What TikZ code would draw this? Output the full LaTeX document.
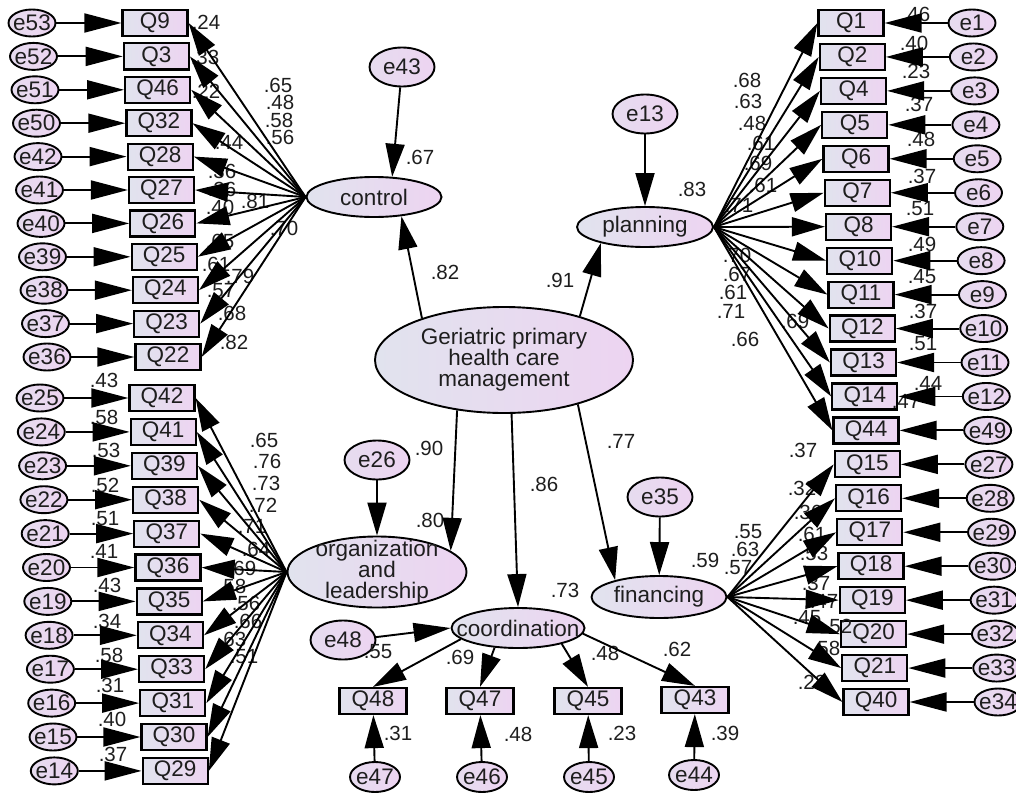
\documentclass[tikz,border=0pt]{standalone}
\usepackage{fontspec}
\setmainfont{Liberation Sans}
\usetikzlibrary{arrows.meta,shapes.geometric}
\definecolor{fillL}{HTML}{E1E3EE}
\definecolor{fillR}{HTML}{EDD4F1}
\definecolor{errL}{HTML}{E6DCEF}
\definecolor{txt}{HTML}{1E1E1E}
\tikzset{
  tfont/.style={font=\fontsize{22.5}{21}\selectfont, text=txt},
  obs/.style={rectangle, draw=black, line width=2.2pt, left color=fillL, right color=fillR,
    minimum width=65pt, minimum height=26pt, inner sep=0pt, tfont},
  err/.style={ellipse, draw=black, line width=1.9pt, left color=errL, right color=fillR,
    minimum width=47pt, minimum height=27pt, inner sep=-3pt, tfont},
  cerr/.style={err, minimum width=65pt, minimum height=39pt},
  berr/.style={err, minimum width=50pt, minimum height=30pt},
  lat/.style={ellipse, draw=black, line width=1.9pt, left color=fillL, right color=fillR, inner sep=0pt},
  lattext/.style={tfont, align=center, inner sep=0pt},
  lbl/.style={font=\fontsize{20.5}{20}\selectfont, text=txt, inner sep=0pt},
  arr/.style={line width=1.9pt, -{Triangle[length=33pt,width=19pt]}},
  harr/.style={line width=1.9pt, -{Triangle[length=37pt,width=19pt]}},
}
\begin{document}
\begin{tikzpicture}[x=1pt,y=-1pt]
\useasboundingbox (0,0) rectangle (1016,792);
% latent variables
\node[lat, minimum width=258pt, minimum height=106pt] (gp) at (504,360) {};
\node[lattext] (gpt) at (gp) {Geriatric primary\\health care\\management};
\node[lat, minimum width=135pt, minimum height=40pt] (ctrl) at (374,197) {};
\node[lattext] (ctrlt) at (ctrl) {control};
\node[lat, minimum width=136pt, minimum height=40pt] (plan) at (645,227) {};
\node[lattext] (plant) at (plan) {planning};
\node[lat, minimum width=179pt, minimum height=71pt] (org) at (377,572) {};
\node[lattext] (orgt) at (org) {organization\\and\\leadership};
\node[lat, minimum width=133pt, minimum height=40pt] (coord) at (518,628) {};
\node[lattext] (coordt) at (coord) {coordination};
\node[lat, minimum width=135pt, minimum height=42pt] (fin) at (659,597) {};
\node[lattext] (fint) at (fin) {financing};
% disturbances
\node[cerr] (e43) at (402,67) {e43};
\node[cerr] (e13) at (645,114) {e13};
\node[cerr] (e26) at (377,460) {e26};
\node[cerr] (e35) at (660,497) {e35};
\node[cerr] (e48) at (343,640) {e48};
% coordination indicators
\node[obs, minimum width=67pt] (Q48) at (373,701) {Q48};
\node[obs, minimum width=67pt] (Q47) at (480,701) {Q47};
\node[obs, minimum width=67pt] (Q45) at (588,701) {Q45};
\node[obs, minimum width=67pt] (Q43) at (695,700) {Q43};
\node[berr] (e47) at (375,777) {e47};
\node[berr] (e46) at (482,777) {e46};
\node[berr] (e45) at (589,777) {e45};
\node[berr] (e44) at (694,775) {e44};
% control indicators
\foreach \n/\e [count=\i from 0] in {Q9/e53,Q3/e52,Q46/e51,Q32/e50,Q28/e42,Q27/e41,Q26/e40,Q25/e39,Q24/e38,Q23/e37,Q22/e36}{
  \node[obs] (\n) at ({155+1.3*\i},{23+33.4*\i}) {\n};
  \node[err] (\e) at ({32+1.5*\i},{23+33.4*\i}) {\e};
}
% organization indicators
\foreach \n/\e [count=\i from 0] in {Q42/e25,Q41/e24,Q39/e23,Q38/e22,Q37/e21,Q36/e20,Q35/e19,Q34/e18,Q33/e17,Q31/e16,Q30/e15,Q29/e14}{
  \node[obs] (\n) at ({162+1.2*\i},{398+33.9*\i}) {\n};
  \node[err] (\e) at ({40+1.3*\i},{398+33.9*\i}) {\e};
}
% right indicators
\foreach \n/\e [count=\i from 0] in {Q1/e1,Q2/e2,Q4/e3,Q5/e4,Q6/e5,Q7/e6,Q8/e7,Q10/e8,Q11/e9,Q12/e10,Q13/e11,Q14/e12,Q44/e49,Q15/e27,Q16/e28,Q17/e29,Q18/e30,Q19/e31,Q20/e32,Q21/e33,Q40/e34}{
  \node[obs] (\n) at ({851+1.25*\i},{23+33.95*\i}) {\n};
  \node[err] (\e) at ({972+1.3*\i},{23+33.95*\i}) {\e};
}
% labels
\foreach \t/\x/\y [count=\k] in {
 .67/420/157, .82/445/272, .91/560/280, .83/692/189, .90/429/448, .80/430/520,
 .86/544/484, .77/621/441, .73/565/590, .59/705/560, .55/378/652, .69/460/657,
 .48/605/653, .62/677/649, .31/398/733, .48/518/734, .23/622/733, .39/725/733,
 .24/206/22, .33/205/57, .22/206/91, .65/278/85, .48/280/102.5, .58/279/120, .56/280/137.5,
 .44/229/142, .36/222/171, .26/222/189, .40/220/207, .81/255/201, .70/284/228,
 .65/220/241, .61/216/264, .79/240/276, .57/221/291, .68/232/313, .82/234/342,
 .43/104/380, .58/104/417, .53/106/450, .52/105/485, .51/105/519, .41/104/551,
 .43/107/585, .34/107/621, .58/109/655, .31/110/685, .40/112/719, .37/113/754,
 .65/264/440, .76/267/461, .73/266/483, .72/263/505, .71/252/526, .64/256/549,
 .69/242/568, .58/232/586, .56/246/603.5, .66/248/621, .63/232/639, .51/244/657,
 .46/916/14, .40/914/43, .23/916/71, .37/919/104, .48/921/139, .37/922/176,
 .51/920/209, .49/922/244, .45/922/277, .37/923/311, .51/923/344, .44/928/383, .47/906/401,
 .68/747/80, .63/748/101, .48/752/123, .61/761/143, .69/758/163, .61/763/185,
 .71/739/205, .70/737/255, .67/737/274, .61/733/292, .71/731/311, .69/795/321, .66/745/339,
 .37/803/450, .32/802/488, .36/808/512, .55/748/531.5, .63/745/549.5, .57/738/567.5,
 .61/812/534, .53/814/553, .37/816/583, .47/824/601, .45/807/618, .52/838/626,
 .58/826/648, .23/812/682}{
  \node[lbl] (l\k) at (\x,\y) {\t};
}
% structural arrows
\draw[arr] (e43) -- (ctrl.48);
\draw[arr] (e13) -- (plan);
\draw[arr] (e26) -- (org);
\draw[arr] (e35) -- (fin);
\draw[arr] (gp.153) -- (ctrl.325);
\draw[arr] (gp.30) -- (plan.200);
\draw[arr] (gp.227) -- (org.16);
\draw[arr] (gp.278) -- (coord.north);
\draw[arr] (gp.329) -- (fin.159);
\draw[harr] (e48.5) -- (coord.west);
\draw[arr] (coord.191) -- (Q48.north);
\draw[arr] (coord.220) -- (Q47.north);
\draw[arr] (coord.340) -- (Q45.north);
\draw[arr] (coord.355) -- (Q43.north);
\draw[arr] (e47) -- (Q48);
\draw[arr] (e46) -- (Q47);
\draw[arr] (e45) -- (Q45);
\draw[arr] (e44) -- (Q43);
% measurement arrows
\foreach \n/\e in {Q9/e53,Q3/e52,Q46/e51,Q32/e50,Q28/e42,Q27/e41,Q26/e40,Q25/e39,Q24/e38,Q23/e37,Q22/e36}{
  \draw[arr] (ctrl.west) -- (\n.east);
  \draw[harr] (\e) -- (\n);
}
\foreach \n/\e in {Q42/e25,Q41/e24,Q39/e23,Q38/e22,Q37/e21,Q36/e20,Q35/e19,Q34/e18,Q33/e17,Q31/e16,Q30/e15,Q29/e14}{
  \draw[arr] (org.west) -- (\n.east);
  \draw[harr] (\e) -- (\n);
}
\foreach \n/\e in {Q1/e1,Q2/e2,Q4/e3,Q5/e4,Q6/e5,Q7/e6,Q8/e7,Q10/e8,Q11/e9,Q12/e10,Q13/e11,Q14/e12,Q44/e49}{
  \draw[arr] (plan.east) -- (\n.west);
  \draw[harr] (\e) -- (\n);
}
\foreach \n/\e in {Q15/e27,Q16/e28,Q17/e29,Q18/e30,Q19/e31,Q20/e32,Q21/e33,Q40/e34}{
  \draw[arr] (fin.east) -- (\n.west);
  \draw[harr] (\e) -- (\n);
}
\end{tikzpicture}
\end{document}
